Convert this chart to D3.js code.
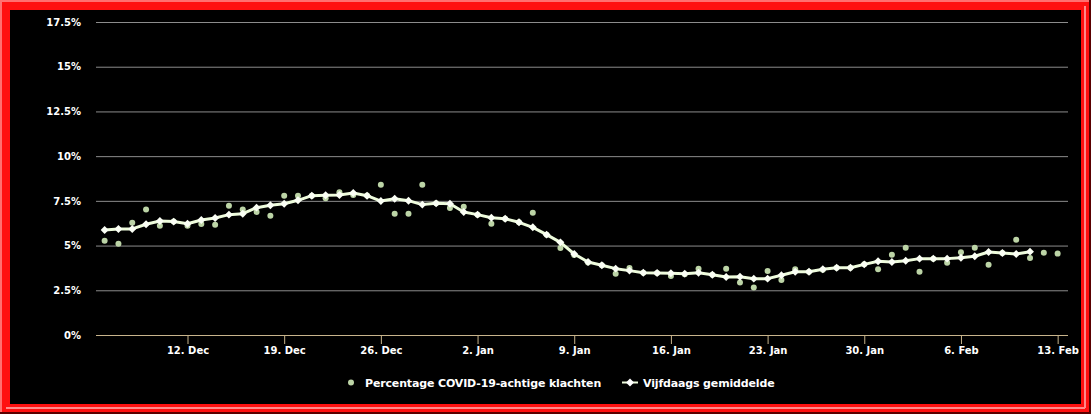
<!DOCTYPE html>
<html>
<head>
<meta charset="utf-8">
<script src="https://cdn.jsdelivr.net/npm/d3@7"></script>
<style>
html,body{margin:0;padding:0;background:#000;}
svg{display:block;}
</style>
</head>
<body>
<svg id="chart" width="1091" height="414"></svg>
<script>
const startDate = "2021-12-06";
const seriesNames = ["Percentage COVID-19-achtige klachten", "Vijfdaags gemiddelde"];
const dailyValues = [5.27,5.10,6.28,7.01,6.11,6.34,6.11,6.20,6.17,7.23,7.01,6.88,6.67,7.79,7.79,7.79,7.64,7.98,7.83,7.80,
  8.40,6.78,6.78,8.40,7.36,7.10,7.17,6.73,6.22,6.50,6.30,6.84,5.61,4.86,4.47,4.05,3.90,3.43,3.75,3.48,
  3.47,3.30,3.40,3.71,3.37,3.71,2.93,2.65,3.58,3.08,3.67,3.54,3.65,3.76,3.76,3.95,3.67,4.49,4.88,3.54,
  4.27,4.04,4.62,4.88,3.93,4.58,5.33,4.30,4.60,4.55];
const avgValues = [5.87,5.93,5.93,6.19,6.37,6.34,6.22,6.43,6.54,6.73,6.78,7.12,7.25,7.34,7.53,7.79,7.81,7.83,7.94,7.79,
  7.49,7.62,7.51,7.29,7.36,7.34,6.88,6.73,6.56,6.50,6.30,6.02,5.61,5.18,4.53,4.08,3.90,3.71,3.60,3.48,
  3.47,3.45,3.43,3.48,3.37,3.24,3.26,3.15,3.15,3.34,3.54,3.54,3.68,3.76,3.76,3.95,4.12,4.08,4.15,4.27,
  4.27,4.27,4.32,4.40,4.64,4.58,4.53,4.66];
const yTicks = [0, 2.5, 5, 7.5, 10, 12.5, 15, 17.5];
const xTickDates = ["2021-12-12","2021-12-19","2021-12-26","2022-01-02","2022-01-09","2022-01-16","2022-01-23","2022-01-30","2022-02-06","2022-02-13"];

(function(){
const parse = d3.utcParse("%Y-%m-%d");
const t0 = parse(startDate);
const daily = dailyValues.map((v,i)=>({d:d3.utcDay.offset(t0,i), v}));
const avg = avgValues.map((v,i)=>({d:d3.utcDay.offset(t0,i), v}));

const svg = d3.select("#chart");
const W = 1091, H = 414;

// frame
svg.append("rect").attr("x",0).attr("y",0).attr("width",W).attr("height",H).attr("fill","#ff1010");
svg.append("rect").attr("x",0).attr("y",0).attr("width",W).attr("height",2).attr("fill","#ff7070");
svg.append("rect").attr("x",0).attr("y",0).attr("width",2).attr("height",H).attr("fill","#ff7070");
svg.append("rect").attr("x",0).attr("y",H-2).attr("width",W).attr("height",2).attr("fill","#5a0000");
svg.append("rect").attr("x",W-2).attr("y",0).attr("width",2).attr("height",H).attr("fill","#5a0000");
svg.append("rect").attr("x",6).attr("y",H-7).attr("width",W-12).attr("height",2).attr("fill","#ff8a8a");
svg.append("rect").attr("x",W-7).attr("y",6).attr("width",2).attr("height",H-12).attr("fill","#ff8a8a");
svg.append("rect").attr("x",10).attr("y",10).attr("width",W-20).attr("height",H-20).attr("fill","#000");

const pl = 96, pr = 1068, pt = 22, pb = 335;
const x = d3.scaleUtc()
  .domain([d3.utcHour.offset(t0,-14.4), d3.utcHour.offset(d3.utcDay.offset(t0,dailyValues.length-1),18)])
  .range([pl, pr]);
const y = d3.scaleLinear().domain([0,17.5]).range([pb, pt]);

const font = "DejaVu Sans, Verdana, sans-serif";

// grid + y labels
const yAxis = svg.append("g").attr("transform",`translate(${pl},0)`)
  .call(d3.axisLeft(y).tickValues(yTicks).tickSize(-(pr-pl)).tickFormat(d=>d+"%"));
yAxis.select(".domain").remove();
yAxis.selectAll(".tick line").attr("stroke","#8c8c8c").attr("stroke-width",1);
yAxis.selectAll(".tick").filter(d=>d===0).select("line").remove();
yAxis.selectAll(".tick text").attr("x",-15).attr("fill","#fff")
  .style("font-family",font).style("font-size","10px").style("font-weight","bold");

// x axis
const xAxis = svg.append("g").attr("transform",`translate(0,${pb})`)
  .call(d3.axisBottom(x).tickValues(xTickDates.map(parse)).tickSize(9).tickSizeOuter(0)
    .tickFormat(d=>d3.utcFormat("%-d. %b")(d)));
xAxis.select(".domain").attr("stroke","#c8b48c").attr("d",`M${pl},0.5H${pr}`);
xAxis.selectAll(".tick line").attr("stroke","#c8b48c");
xAxis.selectAll(".tick text").attr("fill","#fff").attr("y",12)
  .style("font-family",font).style("font-size","10px").style("font-weight","bold");

// scatter
svg.append("g").selectAll("circle").data(daily).join("circle")
  .attr("cx",d=>x(d.d)).attr("cy",d=>y(d.v)).attr("r",3)
  .attr("fill","#bcd4a6");

// average line
const line = d3.line().x(d=>x(d.d)).y(d=>y(d.v));
svg.append("path").datum(avg).attr("d",line).attr("fill","none")
  .attr("stroke","#eefcdc").attr("stroke-width",3).attr("stroke-linejoin","round");
const diamond = d3.symbol().type(d3.symbolDiamond2).size(40);
svg.append("g").selectAll("path").data(avg).join("path")
  .attr("transform",d=>`translate(${x(d.d)},${y(d.v)})`).attr("d",diamond).attr("fill","#fbfff5");

// legend
const lg = svg.append("g").style("font-family",font).style("font-size","11px").style("font-weight","bold")
  .style("letter-spacing","-0.15px");
lg.append("circle").attr("cx",351).attr("cy",382.5).attr("r",3).attr("fill","#bcd4a6");
lg.append("text").attr("x",365).attr("y",386.5).attr("fill","#fff").text(seriesNames[0]);
lg.append("line").attr("x1",622).attr("x2",638).attr("y1",382.5).attr("y2",382.5).attr("stroke","#eefcdc").attr("stroke-width",2);
lg.append("path").attr("transform","translate(630,382.5)").attr("d",diamond).attr("fill","#fff");
lg.append("text").attr("x",643).attr("y",386.5).attr("fill","#fff").text(seriesNames[1]);
})();
</script>
</body>
</html>
